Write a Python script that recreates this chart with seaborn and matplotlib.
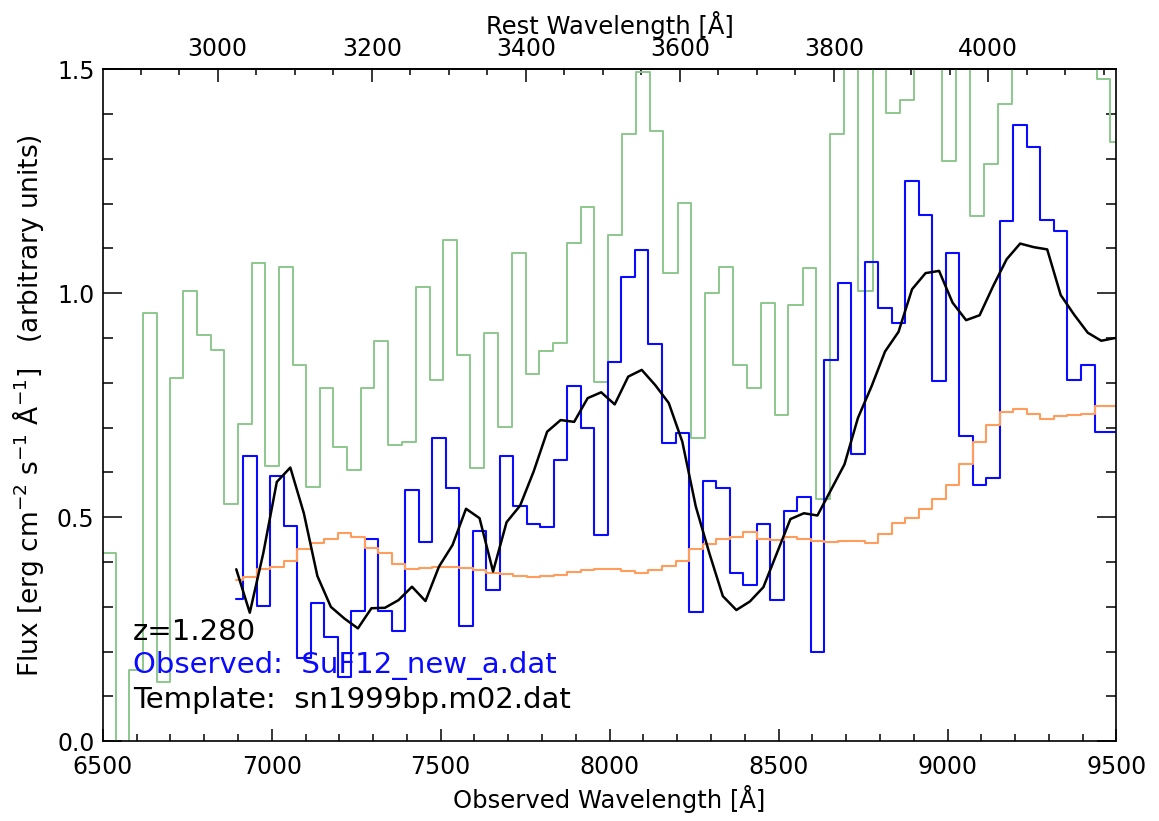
import numpy as np
import pandas as pd
import matplotlib
matplotlib.use("Agg")
import matplotlib.pyplot as plt
from matplotlib.ticker import MultipleLocator, FixedLocator, FormatStrFormatter
import seaborn as sns

# ---- data -------------------------------------------------------------
redshift = 1.280

# common 40 A grid for observed spectrum, template and smoothed spectrum
grid_start = 6895.0
grid_step = 40.0

observed_flux = [0.317, 0.6375, 0.302, 0.592, 0.481, 0.185, 0.308, 0.232, 0.144, 0.291,
                 0.451, 0.291, 0.246, 0.561, 0.444, 0.678, 0.565, 0.257, 0.470, 0.338,
                 0.637, 0.525, 0.484, 0.479, 0.628, 0.793, 0.700, 0.460, 0.847, 1.036,
                 1.097, 0.887, 0.665, 0.688, 0.288, 0.582, 0.566, 0.375, 0.349, 0.485,
                 0.315, 0.515, 0.546, 0.200, 0.850, 1.022, 0.641, 1.069, 0.968, 0.934,
                 1.250, 1.175, 0.804, 1.091, 0.682, 0.572, 0.588, 1.162, 1.376, 1.327,
                 1.164, 1.138, 0.806, 0.840, 0.691, 0.691]

smoothed_flux = [0.384, 0.287, 0.420, 0.579, 0.611, 0.509, 0.369, 0.300, 0.274, 0.252,
                 0.297, 0.298, 0.315, 0.345, 0.313, 0.390, 0.438, 0.519, 0.498, 0.379,
                 0.489, 0.526, 0.602, 0.691, 0.717, 0.713, 0.766, 0.779, 0.752, 0.814,
                 0.829, 0.795, 0.755, 0.669, 0.524, 0.420, 0.324, 0.293, 0.312, 0.344,
                 0.420, 0.496, 0.509, 0.504, 0.561, 0.618, 0.722, 0.792, 0.870, 0.914,
                 1.009, 1.045, 1.050, 0.979, 0.940, 0.951, 1.016, 1.076, 1.111, 1.103,
                 1.098, 0.996, 0.952, 0.912, 0.894, 0.900]

template_flux = [0.360, 0.367, 0.385, 0.390, 0.403, 0.429, 0.442, 0.452, 0.464, 0.455,
                 0.431, 0.421, 0.396, 0.384, 0.386, 0.388, 0.388, 0.387, 0.382, 0.375,
                 0.373, 0.368, 0.367, 0.368, 0.371, 0.378, 0.382, 0.385, 0.385, 0.381,
                 0.375, 0.382, 0.391, 0.403, 0.429, 0.440, 0.451, 0.455, 0.468, 0.452,
                 0.449, 0.455, 0.452, 0.448, 0.445, 0.447, 0.447, 0.443, 0.463, 0.488,
                 0.498, 0.519, 0.541, 0.571, 0.618, 0.668, 0.705, 0.734, 0.742, 0.730,
                 0.720, 0.725, 0.728, 0.731, 0.749, 0.749]

# error spectrum on its own bins (edges in observed A)
error_edges = [6470, 6539, 6578, 6618, 6660, 6698, 6738, 6779, 6819, 6860,
               6900, 6941, 6981, 7022, 7062, 7102, 7143, 7182, 7223, 7264,
               7304, 7344, 7385, 7426, 7467, 7506, 7548, 7588, 7629, 7669,
               7711, 7751, 7791, 7832, 7873, 7914, 7955, 7996, 8037, 8078,
               8118, 8159, 8201, 8242, 8283, 8324, 8365, 8406, 8448, 8488,
               8529, 8571, 8611, 8653, 8694, 8736, 8778, 8818, 8860, 8901,
               8943, 8983, 9025, 9066, 9108, 9149, 9192, 9233, 9274, 9316,
               9359, 9400, 9442, 9482, 9522]
error_flux = [0.42, -0.05, 0.158, 0.955, 0.132, 0.810, 1.006, 0.906, 0.874, 0.530,
              0.708, 1.067, 0.615, 1.059, 0.839, 0.568, 0.789, 0.658, 0.606, 0.788,
              0.894, 0.661, 0.667, 1.013, 0.807, 1.120, 0.863, 0.609, 0.912, 0.702,
              1.091, 0.820, 0.871, 0.890, 1.112, 1.193, 0.803, 1.130, 1.356, 1.493,
              1.363, 1.045, 1.201, 0.676, 1.000, 1.058, 0.840, 0.788, 0.978, 0.728,
              0.973, 1.057, 0.541, 1.356, 1.65, 1.005, 1.70, 1.402, 1.432, 1.60,
              1.75, 1.295, 1.60, 1.173, 1.288, 1.422, 1.70, 1.60, 1.80, 1.65,
              1.70, 1.60, 1.478, 1.338]

rest_ticks = [3000, 3200, 3400, 3600, 3800, 4000]

label_z = "z=1.280"
label_obs = "Observed:  SuF12_new_a.dat"
label_tpl = "Template:  sn1999bp.m02.dat"

# ---- frames -----------------------------------------------------------
wave = grid_start + grid_step * np.arange(len(observed_flux))
spec = pd.DataFrame({"wave": wave, "observed": observed_flux,
                     "smoothed": smoothed_flux, "template": template_flux})
err = pd.DataFrame({"wave": error_edges, "flux": error_flux + [error_flux[-1]]})

# ---- style ------------------------------------------------------------
sns.set_theme(style="white")
plt.rcParams["font.family"] = ["DejaVu Sans"]
plt.rcParams["mathtext.default"] = "regular"
for key in ("text.color", "axes.labelcolor", "xtick.color", "ytick.color",
            "axes.edgecolor"):
    plt.rcParams[key] = "black"

fig = plt.figure(figsize=(11.59, 8.21), dpi=100)
ax = fig.add_axes([0.0887, 0.0971, 0.8746, 0.8185])

green = "#8cc88c"
orange = "#ff9d5c"
blue = "#0a0aff"

sns.lineplot(data=err, x="wave", y="flux", ax=ax, color=green, lw=1.4,
             drawstyle="steps-post", sort=False, estimator=None)
sns.lineplot(data=spec, x="wave", y="observed", ax=ax, color=blue, lw=1.5,
             drawstyle="steps-mid", sort=False, estimator=None)
sns.lineplot(data=spec, x="wave", y="template", ax=ax, color=orange, lw=1.5,
             drawstyle="steps-mid", sort=False, estimator=None)
sns.lineplot(data=spec, x="wave", y="smoothed", ax=ax, color="black", lw=1.8,
             sort=False, estimator=None)

ax.set_xlim(6500, 9500)
ax.set_ylim(0.0, 1.5)

tick_fs = 17
ax.xaxis.set_major_locator(MultipleLocator(500))
ax.xaxis.set_minor_locator(MultipleLocator(100))
ax.yaxis.set_major_locator(MultipleLocator(0.5))
ax.yaxis.set_minor_locator(MultipleLocator(0.1))
ax.yaxis.set_major_formatter(FormatStrFormatter("%.1f"))
ax.tick_params(axis="x", which="major", direction="in", length=9, width=1.1,
               top=False, bottom=True, labelsize=tick_fs, pad=10)
ax.tick_params(axis="x", which="minor", direction="in", length=5, width=1.1,
               top=False, bottom=True)
ax.tick_params(axis="y", which="major", direction="in", length=14, width=1.1,
               left=True, right=True, labelsize=tick_fs, pad=6)
ax.tick_params(axis="y", which="minor", direction="in", length=7.5, width=1.1,
               left=True, right=True)
for s in ax.spines.values():
    s.set_color("black")
    s.set_linewidth(1.2)

ax.set_xlabel("Observed Wavelength [Å]", fontsize=17.5, labelpad=4)
ax.set_ylabel("Flux [erg cm$^{-2}$ s$^{-1}$ Å$^{-1}$]   (arbitrary units)",
              fontsize=19, labelpad=8)

# rest-frame axis on top
top = ax.secondary_xaxis("top", functions=(lambda w: w / (1 + redshift),
                                           lambda r: r * (1 + redshift)))
top.xaxis.set_major_locator(FixedLocator(rest_ticks))
top.xaxis.set_minor_locator(MultipleLocator(50))
top.tick_params(which="major", direction="in", length=9, width=1.1,
                labelsize=tick_fs, pad=6)
top.tick_params(which="minor", direction="in", length=4, width=1.1)
top.set_xlabel("Rest Wavelength [Å]", fontsize=17.5, labelpad=2)

txt_fs = 21
ax.text(0.030, 0.150, label_z, transform=ax.transAxes, fontsize=txt_fs,
        color="black", va="baseline")
ax.text(0.030, 0.101, label_obs, transform=ax.transAxes, fontsize=txt_fs,
        color=blue, va="baseline")
ax.text(0.030, 0.049, label_tpl, transform=ax.transAxes, fontsize=txt_fs,
        color="black", va="baseline")

fig.savefig("out.png", dpi=100)
